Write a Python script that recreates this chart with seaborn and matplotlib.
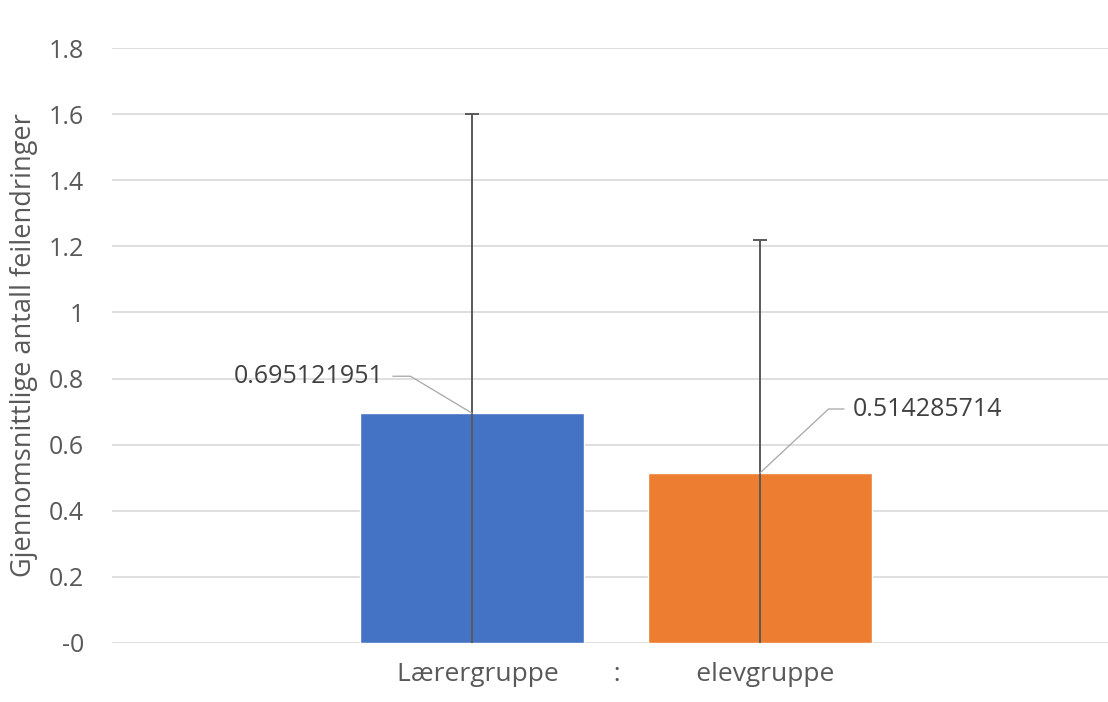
import matplotlib
matplotlib.use("Agg")
import matplotlib.pyplot as plt
import pandas as pd
import seaborn as sns

# data
gruppe = ["Lærergruppe", "elevgruppe"]
snitt = [0.695121951, 0.514285714]
feil = [0.905, 0.706]          # error bar half-length (top at 1.6 and 1.22)
kategori = "Lærergruppe" + " " * 8 + ":" + " " * 11 + "elevgruppe"
yticks = [0, 0.2, 0.4, 0.6, 0.8, 1.0, 1.2, 1.4, 1.6, 1.8]
yticklabels = ["-0", "0.2", "0.4", "0.6", "0.8", "1", "1.2", "1.4", "1.6", "1.8"]
farger = ["#4472C4", "#ED7D31"]

df = pd.DataFrame({"kat": [kategori] * 2, "gruppe": gruppe, "snitt": snitt})

sns.set_theme(style="white")
plt.rcParams["font.family"] = ["Open Sans", "DejaVu Sans"]
tekst = "#595959"

fig = plt.figure(figsize=(11.08, 7.02), dpi=100)
ax = fig.add_axes([112 / 1108, 1 - 643 / 702, 996 / 1108, (643 - 48) / 702])

sns.barplot(data=df, x="kat", y="snitt", hue="gruppe", palette=farger,
            width=0.578, gap=0.222, saturation=1, legend=False, ax=ax,
            errorbar=None)

# error bars at bar centres
for p, e in zip(ax.patches, feil):
    xc = p.get_x() + p.get_width() / 2
    ax.errorbar(xc, p.get_height(), yerr=e, color="#595959", lw=1.4,
                capsize=5, capthick=1.4, zorder=3)

# data labels with leader lines
offsets = [(-163, 37, "center", 149), (93, 64, "left", 43)]
for p, v, (dx, dy, ha, angB) in zip(ax.patches, snitt, offsets):
    xc = p.get_x() + p.get_width() / 2
    ax.annotate(f"{v:.9f}", xy=(xc, v), xytext=(dx, dy),
                textcoords="offset pixels", ha=ha, va="center",
                fontsize=18, color="#404040",
                arrowprops=dict(arrowstyle="-", color="#a6a6a6", lw=0.9,
                                shrinkA=4, shrinkB=0,
                                connectionstyle=f"angle,angleA=0,angleB={angB},rad=0"))

ax.set_xlim(-0.506, 0.494)
ax.set_ylim(0, 1.8)
ax.set_yticks(yticks)
ax.set_yticklabels(yticklabels)
ax.yaxis.grid(True, color="#d9d9d9", lw=1.2)
ax.set_axisbelow(True)
sns.despine(ax=ax, left=True, bottom=True)
ax.tick_params(axis="y", length=0, pad=20, labelsize=18, labelcolor=tekst)
ax.tick_params(axis="x", length=0, pad=14, labelsize=19, labelcolor=tekst)
ax.set_xlabel("")
ax.set_ylabel("Gjennomsnittlige antall feilendringer", fontsize=19.5,
              color=tekst, labelpad=8)

fig.savefig("out.png", dpi=100)
